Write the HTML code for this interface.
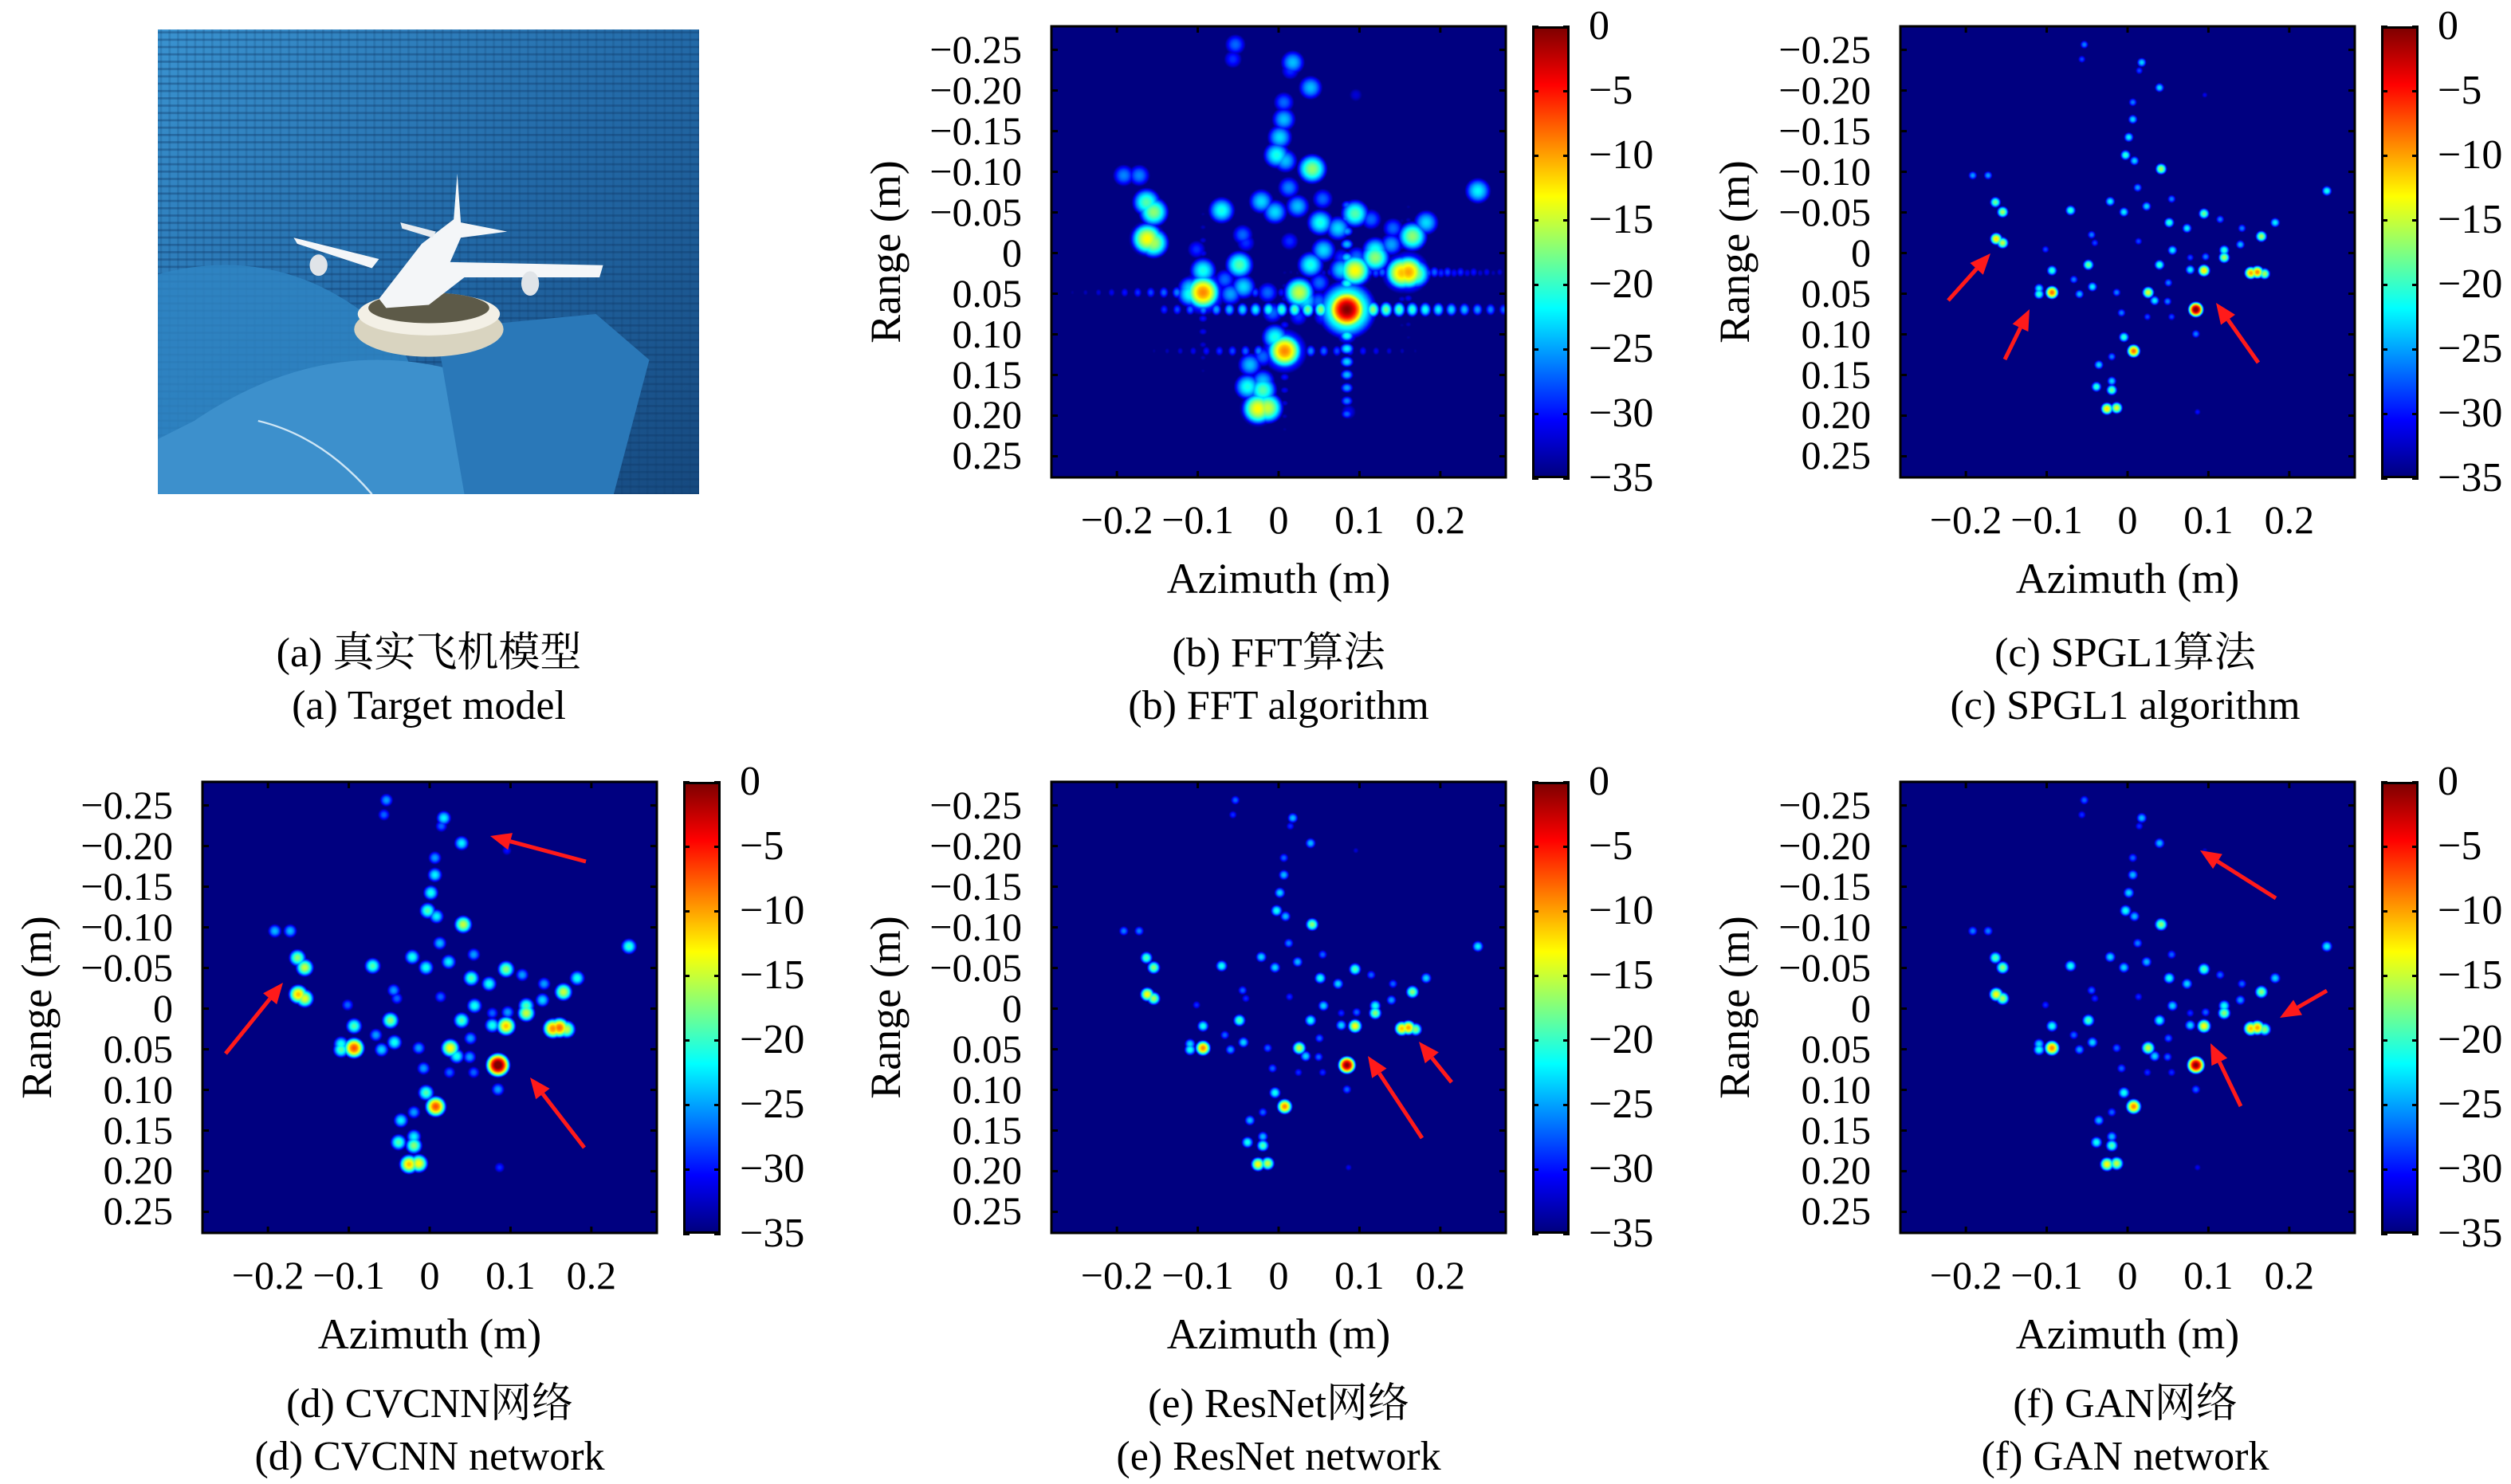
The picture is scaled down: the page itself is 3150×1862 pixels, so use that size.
<!DOCTYPE html>
<html><head><meta charset="utf-8">
<style>
html,body{margin:0;padding:0;background:#fff;}
#root{position:relative;width:3150px;height:1862px;overflow:hidden;background:#fff;font-family:"Liberation Serif","Noto Serif CJK SC",serif;color:#000;}
.abs{position:absolute;}
.tl{position:absolute;font-size:50px;line-height:1;white-space:nowrap;}
.cap{position:absolute;font-size:52px;line-height:1;white-space:nowrap;transform:translate(-50%,-50%);}
canvas{position:absolute;}
</style></head>
<body>
<div id="root">
  <svg class="abs" style="left:198px;top:37px;width:679px;height:583px" viewBox="18 18 1522 1522" preserveAspectRatio="none">
    <defs>
      <linearGradient id="wall" x1="0" y1="0" x2="1" y2="1">
        <stop offset="0" stop-color="#3a93d0"/><stop offset="0.5" stop-color="#236aa8"/><stop offset="1" stop-color="#16497f"/>
      </linearGradient>
      <pattern id="foam" width="24" height="24" patternUnits="userSpaceOnUse">
        <rect width="24" height="7" fill="#0e3a6a" opacity="0.4"/><rect x="0" width="6" height="24" fill="#0e3a6a" opacity="0.2"/>
      </pattern>
    </defs>
    <rect x="18" y="18" width="1522" height="1522" fill="url(#wall)"/>
    <rect x="18" y="18" width="1522" height="1522" fill="url(#foam)"/>
    <path d="M18 820 Q400 700 700 1050 L900 1540 L18 1540 Z" fill="#2f86c4" opacity="0.8"/>
    <path d="M120 1300 Q500 1000 900 1150 L900 1540 L18 1540 L18 1360 Z" fill="#3d90cc"/>
    <path d="M800 1000 L1250 950 L1400 1100 L1300 1540 L880 1540 Z" fill="#2a78b8"/>
    <path d="M300 1300 Q480 1350 620 1540" stroke="#cfe6f5" stroke-width="6" fill="none"/>
    <ellipse cx="780" cy="1000" rx="210" ry="90" fill="#d9d4c0"/>
    <ellipse cx="780" cy="950" rx="200" ry="70" fill="#f3f0e6"/>
    <ellipse cx="780" cy="930" rx="170" ry="50" fill="#5d5a48"/>
    <path d="M640 900 L760 720 L850 640 L860 490 L870 650 L1000 680 L870 700 L840 780 L1270 790 L1260 830 L880 830 L780 920 L660 930 Z" fill="#f4f6f8"/>
    <path d="M400 700 L640 770 L620 800 L410 720 Z" fill="#f4f6f8"/>
    <path d="M700 650 L800 680 L790 700 L705 670 Z" fill="#e8ecf0"/>
    <ellipse cx="470" cy="790" rx="25" ry="35" fill="#e0e4e8"/>
    <ellipse cx="1065" cy="850" rx="25" ry="40" fill="#e0e4e8"/>
  </svg>
</div>
<script>
// ---- chart data (shared scatterer list) ----
const azimuth = [-0.054,-0.057,0.017,0.014,0.039,0.006,0.006,0.001,-0.003,0.008,0.041,-0.192,-0.173,0.012,-0.022,0.054,0.023,-0.164,-0.155,-0.071,-0.005,0.094,0.246,0.182,0.051,0.073,0.114,0.165,0.141,-0.163,-0.155,-0.045,-0.041,0.013,0.055,0.119,0.139,0.119,0.096,0.077,-0.102,-0.049,0.039,0.077,0.094,0.152,0.160,0.169,-0.094,-0.067,0.050,-0.110,-0.110,-0.094,-0.060,-0.044,-0.014,0.025,0.033,0.049,0.084,-0.008,0.024,0.054,0.084,-0.005,0.007,-0.020,-0.036,-0.020,-0.039,-0.020,-0.026,-0.014,0.086,0.095];
const range = [-0.257,-0.239,-0.235,-0.225,-0.204,-0.186,-0.165,-0.143,-0.121,-0.114,-0.104,-0.096,-0.096,-0.081,-0.064,-0.067,-0.058,-0.063,-0.051,-0.053,-0.051,-0.049,-0.077,-0.038,-0.038,-0.031,-0.042,-0.021,-0.031,-0.018,-0.013,-0.023,-0.013,-0.015,-0.004,-0.004,-0.011,0.005,0.004,0.005,-0.005,0.014,0.014,0.020,0.021,0.024,0.023,0.025,0.021,0.032,0.036,0.043,0.050,0.048,0.050,0.041,0.048,0.048,0.058,0.059,0.069,0.073,0.078,0.078,0.099,0.103,0.120,0.127,0.137,0.157,0.164,0.168,0.191,0.190,0.195,-0.195];
const amplitudeDb = [-28,-30,-25,-30,-25,-28,-25,-24,-22,-25,-18,-27,-27,-27,-24,-28,-25,-20,-18,-22,-24,-20,-23,-24,-22,-24,-28,-18,-28,-14,-17,-28,-30,-30,-24,-22,-26,-18,-28,-30,-30,-20,-22,-24,-14,-12,-11,-18,-22,-28,-28,-24,-22,-10,-26,-24,-28,-16,-24,-28,-1,-28,-30,-30,-28,-22,-10,-28,-25,-25,-22,-20,-14,-16,-32,-33];
const panelNames = ["fft","spgl1","cvcnn","resnet","gan"];
const panelGainDb = [1,2,3,1,1];
const panelSigma = [0.0095,0.0036,0.0055,0.0042,0.0042];
const xTicks = [-0.2,-0.1,0,0.1,0.2];
const xTickLabels = ["−0.2","−0.1","0","0.1","0.2"];
const yTicks = [-0.25,-0.2,-0.15,-0.1,-0.05,0,0.05,0.1,0.15,0.2,0.25];
const yTickLabels = ["−0.25","−0.20","−0.15","−0.10","−0.05","0","0.05","0.10","0.15","0.20","0.25"];
const cbTicks = [0,-5,-10,-15,-20,-25,-30,-35];
const cbTickLabels = ["0","−5","−10","−15","−20","−25","−30","−35"];
const captionsCn = ["(a) 真实飞机模型","(b) FFT算法","(c) SPGL1算法","(d) CVCNN网络","(e) ResNet网络","(f) GAN网络"];
const captionsEn = ["(a) Target model","(b) FFT algorithm","(c) SPGL1 algorithm","(d) CVCNN network","(e) ResNet network","(f) GAN network"];

const root = document.getElementById('root');
const W = 570, H = 566, X0 = -0.281, X1 = 0.281, Y0 = -0.279, Y1 = 0.276, DBMIN = -35, DBMAX = 0;
function xScale(v){ return (v - X0) / (X1 - X0) * W; }
function yScale(v){ return (v - Y0) / (Y1 - Y0) * H; }
function cbScale(v){ return (DBMAX - v) / (DBMAX - DBMIN) * 567; }
function jet(t){
  const c = x => Math.max(0, Math.min(1, x));
  return [c(1.5 - Math.abs(4*t - 3)), c(1.5 - Math.abs(4*t - 2)), c(1.5 - Math.abs(4*t - 1))].map(v => Math.round(v*255));
}
const panelPos = [[1319,33],[2384,33],[254,981],[1319,981],[2384,981]];
const arrows = [
  [],
  [[2444,377,2497,318],[2515,451,2546,388],[2833,455,2780,380]],
  [[735,1081,615,1049],[283,1322,355,1233],[733,1440,665,1352]],
  [[1784,1428,1716,1325],[1821,1358,1780,1307]],
  [[2855,1127,2760,1067],[2919,1243,2860,1277],[2811,1388,2773,1309]]
];

function mk(tag, cls, name, inter){
  const e = document.createElement(tag);
  if (cls) e.className = cls;
  
  
  return e;
}

function drawPanel(p){
  const [L, T] = panelPos[p];
  const cv = mk('canvas', '', panelNames[p] + '-heatmap', false);
  cv.width = W; cv.height = H;
  cv.style.left = L + 'px'; cv.style.top = T + 'px';
  root.appendChild(cv);
  const ctx = cv.getContext('2d');
  const buf = new Float32Array(W*H).fill(DBMIN);
  const sigPx = panelSigma[p] / (X1 - X0) * W;
  function stamp(cx, cy, amp, sx, sy){
    const r = Math.ceil(Math.max(sx, sy) * 3.2);
    for (let y = Math.max(0, Math.floor(cy - r)); y < Math.min(H, cy + r); y++){
      for (let x = Math.max(0, Math.floor(cx - r)); x < Math.min(W, cx + r); x++){
        const dx = (x - cx) / sx, dy = (y - cy) / sy;
        const v = amp - 4.343 * (dx*dx + dy*dy);
        const i = y*W + x;
        if (v > buf[i]) buf[i] = v;
      }
    }
  }
  for (let k = 0; k < azimuth.length; k++){
    const cx = xScale(azimuth[k]), cy = yScale(range[k]);
    const amp = amplitudeDb[k] + panelGainDb[p];
    if (p === 0) stamp(cx, cy, amp - 14, sigPx*1.8, sigPx*1.8);
    stamp(cx, cy, amp, sigPx, sigPx);
    if (p === 0 && amp > -13){
      const step = sigPx * 1.7;
      for (let j = 1; j <= 14; j++){
        const lv = amp - 15 - j*1.0;
        stamp(cx + j*step, cy, lv, sigPx*0.45, sigPx*0.55);
        stamp(cx - j*step, cy, lv, sigPx*0.45, sigPx*0.55);
        if (j <= 8){
          stamp(cx, cy + j*step, lv - 4, sigPx*0.55, sigPx*0.45);
          stamp(cx, cy - j*step, lv - 4, sigPx*0.55, sigPx*0.45);
        }
      }
    }
  }
  const img = ctx.createImageData(W, H);
  for (let i = 0; i < W*H; i++){
    const t = (Math.min(DBMAX, Math.max(DBMIN, buf[i])) - DBMIN) / (DBMAX - DBMIN);
    const c = jet(t);
    img.data[i*4] = c[0]; img.data[i*4+1] = c[1]; img.data[i*4+2] = c[2]; img.data[i*4+3] = 255;
  }
  ctx.putImageData(img, 0, 0);

  const ns = 'http://www.w3.org/2000/svg';
  const svg = document.createElementNS(ns, 'svg');
  
  
  svg.setAttribute('width', W + 4); svg.setAttribute('height', H + 4);
  svg.style.position = 'absolute'; svg.style.left = (L - 2) + 'px'; svg.style.top = (T - 2) + 'px';
  let s = `<rect x="2" y="2" width="${W}" height="${H}" fill="none" stroke="#000" stroke-width="3"/>`;
  xTicks.forEach(v => { const x = xScale(v) + 2; s += `<line x1="${x}" y1="2" x2="${x}" y2="10" stroke="#000" stroke-width="3"/><line x1="${x}" y1="${H+2}" x2="${x}" y2="${H-6}" stroke="#000" stroke-width="3"/>`; });
  yTicks.forEach(v => { const y = yScale(v) + 2; s += `<line x1="2" y1="${y}" x2="10" y2="${y}" stroke="#000" stroke-width="3"/><line x1="${W+2}" y1="${y}" x2="${W-6}" y2="${y}" stroke="#000" stroke-width="3"/>`; });
  svg.innerHTML = s;
  root.appendChild(svg);

  xTicks.forEach((v, i) => {
    const e = mk('div', 'tl', 'x-tick-label', false);
    e.textContent = xTickLabels[i];
    e.style.left = (L + xScale(v)) + 'px'; e.style.top = (T + H + 28) + 'px';
    e.style.transform = 'translateX(-50%)';
    root.appendChild(e);
  });
  yTicks.forEach((v, i) => {
    const e = mk('div', 'tl', 'y-tick-label', false);
    e.textContent = yTickLabels[i];
    e.style.right = (3150 - L + 37) + 'px'; e.style.top = (T + yScale(v) - 26) + 'px';
    root.appendChild(e);
  });
  const xl = mk('div', 'tl', 'x-axis-title', false);
  xl.textContent = 'Azimuth (m)';
  xl.style.fontSize = '54px';
  xl.style.left = (L + xScale(0)) + 'px'; xl.style.top = (T + H + 100) + 'px';
  xl.style.transform = 'translateX(-50%)';
  root.appendChild(xl);
  const yl = mk('div', 'tl', 'y-axis-title', false);
  yl.textContent = 'Range (m)';
  yl.style.fontSize = '54px';
  yl.style.left = (L - 208) + 'px'; yl.style.top = (T + H/2) + 'px';
  yl.style.transform = 'translate(-50%,-50%) rotate(-90deg)';
  root.appendChild(yl);

  const cb = mk('div', 'abs', 'colorbar', false);
  cb.style.left = (L + 603) + 'px'; cb.style.top = T + 'px';
  cb.style.width = '47px'; cb.style.height = '567px'; cb.style.boxSizing = 'border-box';
  cb.style.border = '3px solid #000';
  cb.style.background = 'linear-gradient(to bottom,#800000 0%,#ff0000 12.5%,#ffff00 37.5%,#00ffff 62.5%,#0000ff 87.5%,#000080 100%)';
  root.appendChild(cb);
  cbTicks.forEach((v, i) => {
    const y = T + cbScale(v);
    const tk = mk('div', 'abs', 'colorbar-tick', false);
    tk.style.left = (L + 603) + 'px'; tk.style.top = (y - 1.5) + 'px';
    tk.style.width = '47px'; tk.style.height = '3px';
    tk.style.background = 'linear-gradient(to right,#000 0,#000 8px,transparent 8px,transparent 39px,#000 39px)';
    root.appendChild(tk);
    const e = mk('div', 'tl', 'colorbar-tick-label', false);
    e.textContent = cbTickLabels[i];
    e.style.left = (L + 674) + 'px'; e.style.top = (y - 26) + 'px';
    e.style.fontSize = '52px';
    root.appendChild(e);
  });
}
for (let p = 0; p < 5; p++) drawPanel(p);

(function(){
  const ns = 'http://www.w3.org/2000/svg';
  const svg = document.createElementNS(ns, 'svg');
  
  
  svg.setAttribute('width', 3150); svg.setAttribute('height', 1862);
  svg.style.position = 'absolute'; svg.style.left = '0'; svg.style.top = '0';
  let s = '';
  arrows.forEach(list => list.forEach(a => {
    const [x1, y1, x2, y2] = a;
    const ang = Math.atan2(y2 - y1, x2 - x1), hl = 26, hw = 11;
    const bx = x2 - hl*Math.cos(ang), by = y2 - hl*Math.sin(ang);
    const px = -Math.sin(ang)*hw, py = Math.cos(ang)*hw;
    s += `<line x1="${x1}" y1="${y1}" x2="${bx}" y2="${by}" stroke="#ff1a1a" stroke-width="5"/>`;
    s += `<polygon points="${x2},${y2} ${bx+px},${by+py} ${bx-px},${by-py}" fill="#ff1a1a"/>`;
  }));
  svg.innerHTML = s;
  root.appendChild(svg);
})();

const capX = [538, 1604, 2666, 539, 1604, 2666];
const capY = [[820,886],[820,886],[820,886],[1762,1828],[1762,1828],[1762,1828]];
for (let i = 0; i < 6; i++){
  const a = mk('div', 'cap', 'caption-chinese', false);
  a.textContent = captionsCn[i];
  a.style.left = capX[i] + 'px'; a.style.top = capY[i][0] + 'px';
  root.appendChild(a);
  const b = mk('div', 'cap', 'caption-english', false);
  b.textContent = captionsEn[i];
  b.style.left = capX[i] + 'px'; b.style.top = capY[i][1] + 'px';
  root.appendChild(b);
}
</script>
</body></html>
